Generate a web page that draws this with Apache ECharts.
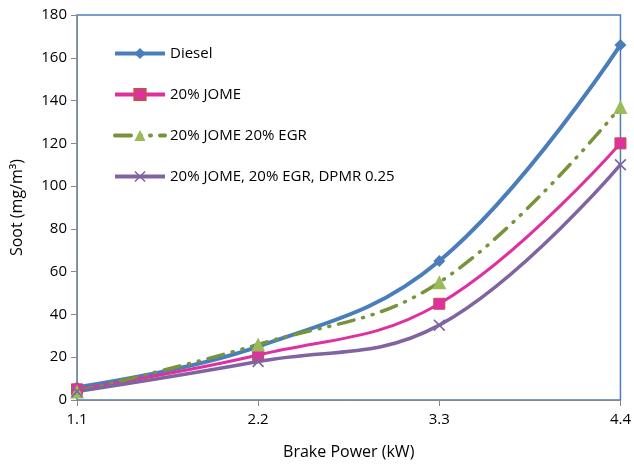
<!DOCTYPE html>
<html><head><meta charset="utf-8">
<script src="https://cdn.jsdelivr.net/npm/echarts@6/dist/echarts.min.js"></script>
<style>html,body{margin:0;padding:0;background:#fff}#c{width:634px;height:465px}</style>
</head><body><div id="c"></div>
<script>
const categories = ['1.1', '2.2', '3.3', '4.4'];
const diesel = [6, 25, 65, 166];
const jome = [5, 21, 45, 120];
const jomeEgr = [4, 26, 55, 137];
const jomeEgrDpmr = [4, 18, 35, 110];
const seriesNames = ['Diesel', '20% JOME', '20% JOME 20% EGR', '20% JOME, 20% EGR, DPMR 0.25'];

const font = 'Open Sans, Liberation Sans, sans-serif';
const xPath = 'path://M0,1 L1,0 L5,4 L9,0 L10,1 L6,5 L10,9 L9,10 L5,6 L1,10 L0,9 L4,5 Z';
const chart = echarts.init(document.getElementById('c'));
chart.setOption({
  animation: false,
  grid: { left: 77, right: 12, top: 15, bottom: 63, show: true, borderColor: '#4A7EBB', borderWidth: 1.5, backgroundColor: 'transparent' },
  legend: {
    orient: 'vertical', left: 108, top: 41, itemWidth: 50, itemHeight: 14, itemGap: 26,
    lineStyle: { width: 4 },
    textStyle: { fontFamily: font, fontSize: 15, color: '#000' },
    data: seriesNames
  },
  xAxis: {
    type: 'category', data: categories, boundaryGap: false,
    name: 'Brake Power (kW)', nameLocation: 'middle', nameGap: 44,
    nameTextStyle: { fontFamily: font, fontSize: 16, color: '#000' },
    axisLine: { lineStyle: { color: '#888', width: 1 } },
    axisTick: { show: true, length: 6, lineStyle: { color: '#888' } },
    axisLabel: { fontFamily: font, fontSize: 15, color: '#000', margin: 12 },
    splitLine: { show: false }
  },
  yAxis: {
    type: 'value', min: 0, max: 180, interval: 20,
    name: 'Soot (mg/m³)', nameLocation: 'middle', nameGap: 52,
    nameTextStyle: { fontFamily: font, fontSize: 16, color: '#000' },
    axisLine: { show: true, lineStyle: { color: '#888', width: 1 } },
    axisTick: { show: true, length: 6, lineStyle: { color: '#888' } },
    axisLabel: { fontFamily: font, fontSize: 15, color: '#000', margin: 10 },
    splitLine: { show: false }
  },
  series: [
    { name: seriesNames[0], type: 'line', data: diesel, smooth: 0.4,
      symbol: 'diamond', symbolSize: 12,
      lineStyle: { color: '#4A7EBB', width: 4 },
      itemStyle: { color: '#4A7EBB' } },
    { name: seriesNames[1], type: 'line', data: jome, smooth: 0.4,
      symbol: 'rect', symbolSize: 11,
      lineStyle: { color: '#E0309F', width: 3 },
      itemStyle: { color: '#E0309F', borderColor: '#C0504D', borderWidth: 1 } },
    { name: seriesNames[2], type: 'line', data: jomeEgr, smooth: 0.4,
      symbol: 'triangle', symbolSize: 14,
      lineStyle: { color: '#77933C', width: 3.5, type: [16, 9, 1, 9, 1, 9], cap: 'round' },
      itemStyle: { color: '#9BBB59' } },
    { name: seriesNames[3], type: 'line', data: jomeEgrDpmr, smooth: 0.4,
      symbol: xPath, symbolSize: 12,
      lineStyle: { color: '#8064A2', width: 3.5 },
      itemStyle: { color: '#8064A2' } }
  ]
});
</script></body></html>
